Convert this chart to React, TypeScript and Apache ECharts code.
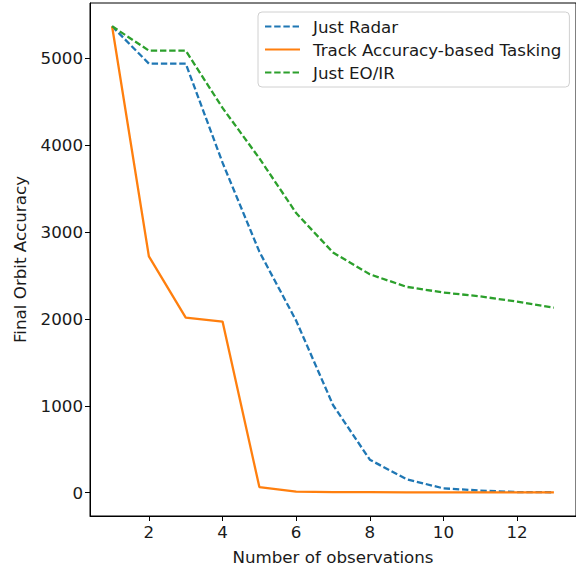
import React, { useEffect, useRef } from "react";
import * as echarts from "echarts";

const observations = [1, 2, 3, 4, 5, 6, 7, 8, 9, 10, 11, 12, 13];
const justRadar = [5370, 4940, 4940, 3800, 2775, 1980, 1010, 380, 155, 50, 25, 8, 5];
const trackAccuracy = [5370, 2720, 2015, 1970, 65, 12, 8, 6, 5, 5, 5, 5, 5];
const justEOIR = [5370, 5090, 5090, 4430, 3850, 3220, 2765, 2515, 2370, 2305, 2260, 2200, 2130];
const xTicks = [2, 4, 6, 8, 10, 12];
const yTicks = [0, 1000, 2000, 3000, 4000, 5000];

const FONT = "DejaVu Sans";
const FS = 16.7;
const TXT = "#1a1a1a";

export default function App() {
  const ref = useRef<HTMLDivElement>(null);
  useEffect(() => {
    if (!ref.current) return;
    const chart = echarts.init(ref.current, undefined, { renderer: "svg" });
    const mk = (arr: number[]) => observations.map((x, i) => [x, arr[i]]);
    chart.setOption({
      animation: false,
      textStyle: { fontFamily: FONT },
      grid: {
        left: 90,
        top: 3,
        right: -2,
        bottom: 55,
        show: true,
        borderColor: "#000",
        borderWidth: 1,
      },
      legend: {
        orient: "vertical",
        left: 258,
        top: 12,
        padding: [6, 8, 6, 6],
        itemGap: 6,
        itemWidth: 35,
        itemHeight: 14,
        backgroundColor: "rgba(255,255,255,0.8)",
        borderColor: "#d0d0d0",
        borderWidth: 1,
        borderRadius: 4,
        itemStyle: { opacity: 0, borderWidth: 0 },
        textStyle: { fontFamily: FONT, fontSize: FS, color: TXT, padding: [0, 0, 0, 8] },
        data: ["Just Radar", "Track Accuracy-based Tasking", "Just EO/IR"],
      },
      xAxis: {
        type: "value",
        min: 0.4,
        max: 13.6,
        name: "Number of observations",
        nameLocation: "middle",
        nameGap: 32,
        nameTextStyle: { fontFamily: FONT, fontSize: FS, color: TXT },
        splitLine: { show: false },
        axisLine: { show: true, onZero: false, lineStyle: { color: "#000", width: 1 } },
        axisTick: { show: true, length: 5, customValues: xTicks, lineStyle: { color: "#000" } },
        axisLabel: { customValues: xTicks, fontFamily: FONT, fontSize: FS, color: TXT, margin: 7 },
      },
      yAxis: {
        type: "value",
        min: -268,
        max: 5638,
        name: "Final Orbit Accuracy",
        nameLocation: "middle",
        nameGap: 62,
        nameTextStyle: { fontFamily: FONT, fontSize: FS, color: TXT },
        splitLine: { show: false },
        axisLine: { show: true, lineStyle: { color: "#000", width: 1 } },
        axisTick: { show: true, length: 5, customValues: yTicks, lineStyle: { color: "#000" } },
        axisLabel: {
          customValues: yTicks,
          fontFamily: FONT,
          fontSize: FS,
          color: TXT,
          margin: 7,
          formatter: (v: number) => String(v),
        },
      },
      series: [
        {
          name: "Just Radar",
          type: "line",
          symbol: "none",
          data: mk(justRadar),
          lineStyle: { color: "#1f77b4", width: 2.3, type: [6.4, 2.8] },
          itemStyle: { color: "#1f77b4" },
          z: 2,
        },
        {
          name: "Track Accuracy-based Tasking",
          type: "line",
          symbol: "none",
          data: mk(trackAccuracy),
          lineStyle: { color: "#ff7f0e", width: 2.3 },
          itemStyle: { color: "#ff7f0e" },
          z: 3,
        },
        {
          name: "Just EO/IR",
          type: "line",
          symbol: "none",
          data: mk(justEOIR),
          lineStyle: { color: "#2ca02c", width: 2.3, type: [6.4, 2.8] },
          itemStyle: { color: "#2ca02c" },
          z: 4,
        },
      ],
    });
    return () => chart.dispose();
  }, []);
  return (
    <div
      ref={ref}
      style={{ position: "absolute", left: 0, top: 0, width: 576, height: 571, background: "#fff" }}
    />
  );
}
